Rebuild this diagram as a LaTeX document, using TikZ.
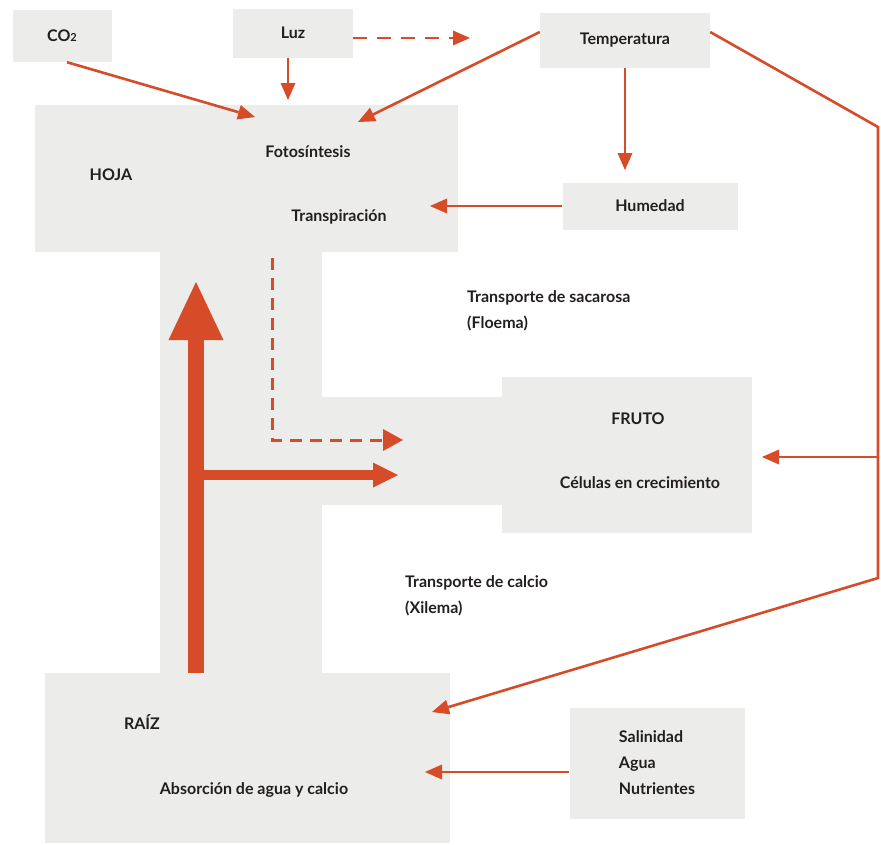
\documentclass[tikz,border=0pt]{standalone}
\usepackage{fontspec}
\setmainfont{Lato}
\usetikzlibrary{arrows.meta}
\definecolor{plantred}{HTML}{D64B28}
\definecolor{plantgray}{HTML}{ECEDEB}
\definecolor{planttext}{HTML}{231F20}

\begin{document}
\begin{tikzpicture}[x=1pt,y=-1pt,font=\fontsize{16}{26}\selectfont\bfseries,text=planttext,
    factor/.style={fill=plantgray,inner sep=0pt,align=left},
    txt/.style={inner sep=0pt,align=left},
    flow/.style={-{Triangle[width=15pt,length=17pt,line width=0pt]},line width=2.6pt,plantred},
    hint/.style={flow,dash pattern=on 14pt off 10pt}]
    \useasboundingbox (0,0) rectangle (881,844);
    \fill[plantgray] (35,105) rectangle (458,252);
    \fill[plantgray] (160,250) rectangle (322,680);
    \fill[plantgray] (160,397) rectangle (505,505);
    \fill[plantgray] (502,377) rectangle (752,533);
    \fill[plantgray] (45,673) rectangle (450,843);

    \node[factor,minimum width=99pt,minimum height=52pt] (co2) at (62,36) {CO{\fontsize{11}{11}\selectfont 2}};
    \node[factor,minimum width=120pt,minimum height=49pt] (luz) at (293,33) {Luz};
    \node[factor,minimum width=170pt,minimum height=55pt] (temp) at (625,40) {Temperatura};
    \node[factor,minimum width=175pt,minimum height=47pt] (hum) at (650,206) {Humedad};
    \node[factor,minimum width=175pt,minimum height=111pt] (sal) at (657,763) {Salinidad\\Agua\\Nutrientes};

    \node[txt] (hoja) at (111,175) {HOJA};
    \node[txt] (foto) at (308,152) {Fotosíntesis};
    \node[txt] (transp) at (339,217) {Transpiración};
    \node[txt,anchor=west] (floema) at (467,311) {Transporte de sacarosa\\(Floema)};
    \node[txt] (fruto) at (638,419) {FRUTO};
    \node[txt] (celulas) at (640,483) {Células en crecimiento};
    \node[txt,anchor=west] (xilema) at (405,596) {Transporte de calcio\\(Xilema)};
    \node[txt] (raiz) at (142,722) {RAÍZ};
    \node[txt] (absorcion) at (254,790) {Absorción de agua y calcio};

    \coordinate (co2in) at (255,117);
    \coordinate (luzin) at (288,100);
    \coordinate (luzout) at (470,38);
    \coordinate (tempin) at (358,122);
    \coordinate (humin) at (625,170);
    \coordinate (transpin) at (430,206);
    \coordinate (bend) at (878,127);
    \coordinate (fork) at (878,457);
    \coordinate (low) at (878,578);
    \coordinate (frutoin) at (762,457);
    \coordinate (raizin) at (432,712);
    \coordinate (absin) at (425,772);
    \coordinate (xbase) at (196,673);
    \coordinate (xtop) at (196,282);
    \coordinate (xjoin) at (196,475);
    \coordinate (xfruto) at (398,475);
    \coordinate (ftop) at (272,258);
    \coordinate (fbend) at (272,440);
    \coordinate (ffruto) at (403,440);

    \draw[flow] ([xshift=5pt]co2.south) -- (co2in);
    \draw[flow] (luzin |- luz.south) -- (luzin);
    \draw[hint] (luz.east |- luzout) -- (luzout);
    \draw[flow] ([yshift=8pt]temp.west) -- (tempin);
    \draw[flow] (humin |- temp.south) -- (humin);
    \draw[flow] (hum.west) -- (transpin);
    \draw[flow] ([yshift=8pt]temp.east) -- (bend) -- (low) -- (raizin);
    \draw[flow] (fork) -- (frutoin);
    \draw[flow] ([yshift=-9pt]sal.west) -- (absin);

    \draw[plantred,line width=16pt,-{Triangle[width=55pt,length=58pt,line width=0pt]}] (xbase) -- (xtop);
    \draw[plantred,line width=10pt,-{Triangle[width=25pt,length=25pt,line width=0pt]}] (xjoin) -- (xfruto);
    \draw[plantred,line width=3pt,dash pattern=on 12pt off 8pt,-{Triangle[width=22pt,length=20pt,line width=0pt]}] (ftop) -- (fbend) -- (ffruto);
\end{tikzpicture}
\end{document}
